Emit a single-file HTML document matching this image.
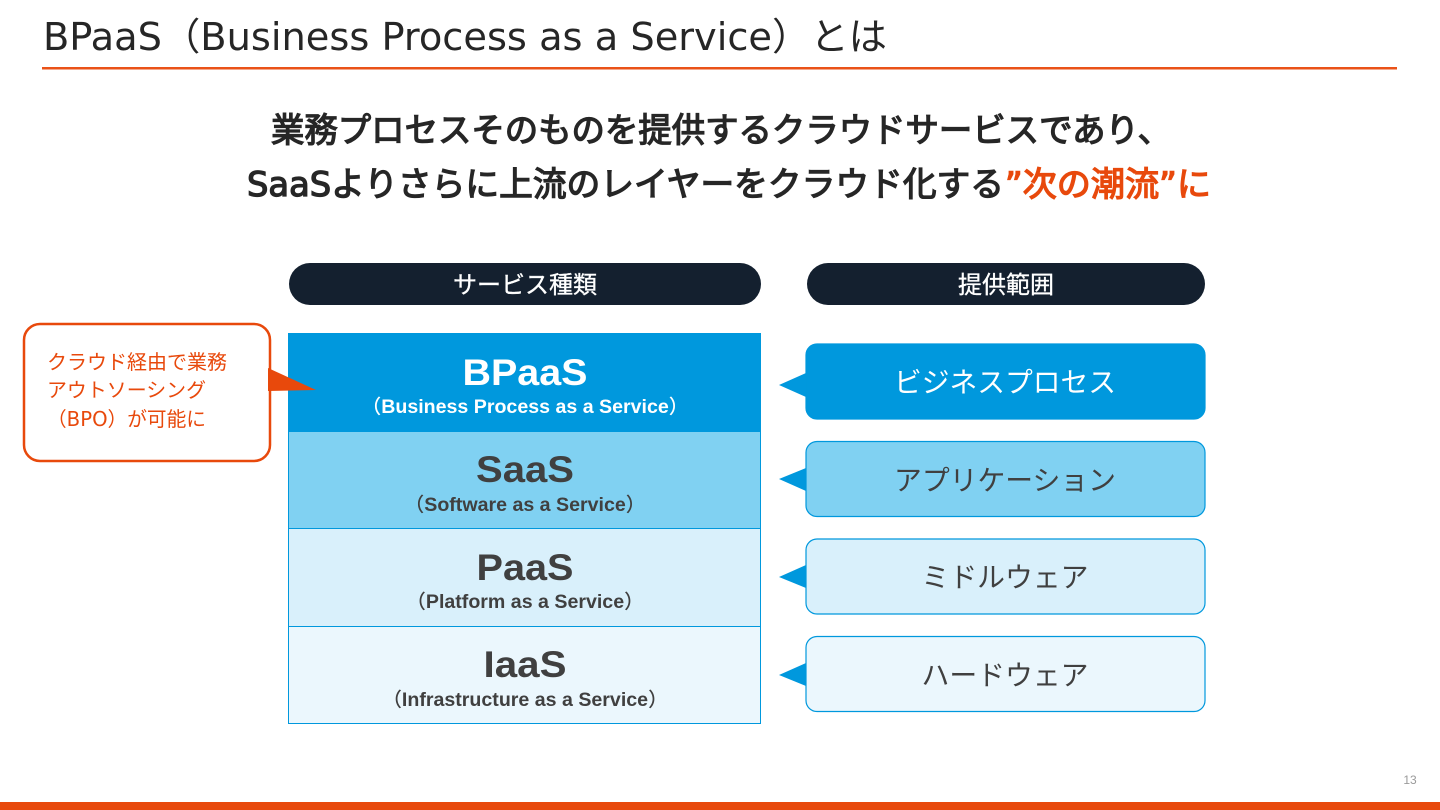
<!DOCTYPE html>
<html lang="ja">
<head>
<meta charset="utf-8">
<style>
html,body{margin:0;padding:0;background:#fff;width:1440px;height:810px;overflow:hidden}
svg{display:block}
text{font-family:"DejaVu Sans","Noto Sans CJK JP",sans-serif}
.lat{font-family:"Liberation Sans","Noto Sans CJK JP",sans-serif;font-weight:700}
.par{font-family:"Noto Sans CJK JP",sans-serif;font-weight:500}
.hd{stroke-width:1.3;paint-order:stroke}
</style>
</head>
<body>
<svg width="1440" height="810" viewBox="0 0 1440 810" xmlns="http://www.w3.org/2000/svg" text-anchor="middle">
<rect width="1440" height="810" fill="#fff"/>
<text x="43" y="50" text-anchor="start" font-size="38" fill="#262626" textLength="844" lengthAdjust="spacingAndGlyphs">BPaaS（Business Process as a Service）とは</text>
<rect x="42" y="67" width="1355" height="2.5" fill="#ea5218"/>

<text class="hd" x="721" y="142" font-size="34" fill="#262626" stroke="#262626" textLength="900" lengthAdjust="spacingAndGlyphs">業務プロセスそのものを提供するクラウドサービスであり、</text>
<text class="hd" x="247" y="196" text-anchor="start" font-size="34" fill="#262626" stroke="#262626" textLength="757" lengthAdjust="spacingAndGlyphs">SaaSよりさらに上流のレイヤーをクラウド化する</text>
<text class="hd" x="1005" y="196" text-anchor="start" font-size="34" fill="#e8490c" stroke="#e8490c" textLength="206" lengthAdjust="spacingAndGlyphs">”次の潮流”に</text>

<rect x="289" y="263" width="472" height="42" rx="21" fill="#14202f"/>
<text x="525" y="293" font-size="24" fill="#fff" stroke="#fff" stroke-width=".3" textLength="144" lengthAdjust="spacingAndGlyphs">サービス種類</text>
<rect x="807" y="263" width="398" height="42" rx="21" fill="#14202f"/>
<text x="1006" y="293" font-size="24" fill="#fff" stroke="#fff" stroke-width=".3" textLength="96" lengthAdjust="spacingAndGlyphs">提供範囲</text>

<rect x="288.500" y="333.500" width="472" height="98" fill="#0098dd" stroke="#0098dd"/>
<rect x="288.500" y="431.500" width="472" height="97" fill="#80d1f2" stroke="#0098dd"/>
<rect x="288.500" y="528.500" width="472" height="98" fill="#d9f0fb" stroke="#0098dd"/>
<rect x="288.500" y="626.500" width="472" height="97" fill="#ebf7fd" stroke="#0098dd"/>

<text class="lat" x="525" y="385" font-size="37" fill="#fff" textLength="125" lengthAdjust="spacingAndGlyphs">BPaaS</text>
<text class="lat" x="525" y="413" font-size="19.600" fill="#fff"><tspan class="par">（</tspan>Business Process as a Service<tspan class="par">）</tspan></text>
<text class="lat" x="525" y="482" font-size="37" fill="#404040" textLength="98" lengthAdjust="spacingAndGlyphs">SaaS</text>
<text class="lat" x="525" y="511" font-size="19.600" fill="#404040"><tspan class="par">（</tspan>Software as a Service<tspan class="par">）</tspan></text>
<text class="lat" x="525" y="580" font-size="37" fill="#404040" textLength="97" lengthAdjust="spacingAndGlyphs">PaaS</text>
<text class="lat" x="525" y="608" font-size="19.600" fill="#404040"><tspan class="par">（</tspan>Platform as a Service<tspan class="par">）</tspan></text>
<text class="lat" x="525" y="677" font-size="37" fill="#404040" textLength="83" lengthAdjust="spacingAndGlyphs">IaaS</text>
<text class="lat" x="525" y="706" font-size="19.600" fill="#404040"><tspan class="par">（</tspan>Infrastructure as a Service<tspan class="par">）</tspan></text>

<rect x="24" y="324" width="246" height="137" rx="16" fill="#fff" stroke="#e8490c" stroke-width="2.500"/>
<polygon points="268,368 316,390 268,391" fill="#e8490c"/>
<text x="47" y="369" text-anchor="start" font-size="20" fill="#e8490c" textLength="180" lengthAdjust="spacingAndGlyphs">クラウド経由で業務</text>
<text x="47" y="397" text-anchor="start" font-size="20" fill="#e8490c" textLength="159" lengthAdjust="spacingAndGlyphs">アウトソーシング</text>
<text x="47" y="426" text-anchor="start" font-size="20" fill="#e8490c" textLength="159" lengthAdjust="spacingAndGlyphs">（BPO）が可能に</text>

<polygon points="779,385 806,373 806,397" fill="#0098dd"/>
<polygon points="779,479 806,468 806,491" fill="#0098dd"/>
<polygon points="779,577 806,565 806,588" fill="#0098dd"/>
<polygon points="779,675 806,663 806,686" fill="#0098dd"/>

<rect x="806" y="344" width="399" height="75" rx="11" fill="#0098dd" stroke="#0098dd" stroke-width="1.200"/>
<rect x="806" y="441.500" width="399" height="75" rx="11" fill="#80d1f2" stroke="#0098dd" stroke-width="1.200"/>
<rect x="806" y="539" width="399" height="75" rx="11" fill="#d9f0fb" stroke="#0098dd" stroke-width="1.200"/>
<rect x="806" y="636.500" width="399" height="75" rx="11" fill="#ebf7fd" stroke="#0098dd" stroke-width="1.200"/>

<text x="1005" y="392" font-size="28" fill="#fff" textLength="222" lengthAdjust="spacingAndGlyphs">ビジネスプロセス</text>
<text x="1005" y="490" font-size="28" fill="#404040" textLength="222" lengthAdjust="spacingAndGlyphs">アプリケーション</text>
<text x="1005" y="587" font-size="28" fill="#404040" textLength="167" lengthAdjust="spacingAndGlyphs">ミドルウェア</text>
<text x="1005" y="685" font-size="28" fill="#404040" textLength="167" lengthAdjust="spacingAndGlyphs">ハードウェア</text>

<text x="1410" y="784" font-size="12" fill="#9a9a9a" style="font-family:'Liberation Sans',sans-serif">13</text>
<rect x="0" y="802" width="1440" height="8" fill="#e8490c"/>
</svg>
</body>
</html>
